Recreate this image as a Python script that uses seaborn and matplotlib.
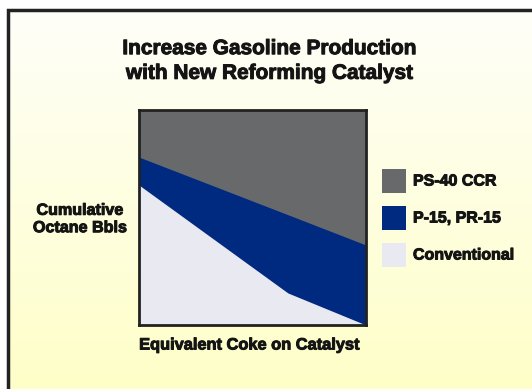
import numpy as np
import pandas as pd
import matplotlib
matplotlib.use("Agg")
import matplotlib.pyplot as plt
import matplotlib.patheffects as pe
import seaborn as sns
from matplotlib.patches import Rectangle

# ---- data (axis 0..100 in both directions) ----
coke = [0, 65.6, 100]
conventional = [65.1, 14.9, 0.0]
p15_pr15 = [78.1, 51.3, 37.2]
ps40_ccr = [100, 100, 100]
series_names = ["PS-40 CCR", "P-15, PR-15", "Conventional"]
series_colors = ["#68696b", "#002a80", "#e9e9f1"]
title_text = "Increase Gasoline Production\nwith New Reforming Catalyst"
xlabel_text = "Equivalent Coke on Catalyst"
ylabel_text = "Cumulative\nOctane Bbls"

df = pd.DataFrame({"coke": coke, "Conventional": conventional,
                   "P-15, PR-15": p15_pr15, "PS-40 CCR": ps40_ccr})

sns.set_style("white")
plt.rcParams["font.family"] = ["Liberation Sans", "DejaVu Sans"]

W, H = 532, 389
fig = plt.figure(figsize=(W / 100, H / 100), dpi=100)
fig.patch.set_facecolor("white")

def fx(px):
    return px / W

def fy(py):
    return 1 - py / H

# background gradient inside frame
bg = fig.add_axes([fx(7), 0, 1 - fx(7), fy(10)])
bg.set_axis_off()
grad = np.linspace(0, 1, 256)[:, None]
top = np.array([0xfe, 0xfe, 0xf9]) / 255
bot = np.array([0xff, 0xff, 0xc8]) / 255
img = top[None, None, :] * (1 - grad[:, :, None]) + bot[None, None, :] * grad[:, :, None]
bg.imshow(img, aspect="auto", extent=[0, 1, 0, 1], origin="upper")
bg.set_xlim(0, 1)
bg.set_ylim(0, 1)
# frame (left and top visible; right/bottom beyond image)
fig.patches.append(Rectangle((fx(7.5), -0.1), 1.2, fy(10.5) + 0.1,
                             transform=fig.transFigure, fill=False,
                             edgecolor="#222222", linewidth=2.5, zorder=5))

# main axes
x0, x1, y0, y1 = 139, 366, 110, 325
ax = fig.add_axes([fx(x0), fy(y1), fx(x1) - fx(x0), fy(y0) - fy(y1)])
sns.lineplot(data=df, x="coke", y="Conventional", ax=ax, color=series_colors[2],
             linewidth=0, legend=False)
ax.fill_between(df["coke"], 0, df["PS-40 CCR"], color=series_colors[0], linewidth=0)
ax.fill_between(df["coke"], 0, df["P-15, PR-15"], color=series_colors[1], linewidth=0)
ax.fill_between(df["coke"], 0, df["Conventional"], color=series_colors[2], linewidth=0)
ax.set_xlim(0, 100)
ax.set_ylim(0, 100)
ax.set_xticks([])
ax.set_yticks([])
ax.set_xlabel("")
ax.set_ylabel("")
for s in ax.spines.values():
    s.set_visible(True)
    s.set_color("#222222")
    s.set_linewidth(2)

txt = "#141414"
bold_fx = [pe.withStroke(linewidth=0.7, foreground=txt)]
# texts
fig.text(fx(270), fy(61), title_text, ha="center", va="center",
         fontsize=15.0, fontweight="bold", color=txt, linespacing=1.38,
         path_effects=bold_fx)
fig.text(fx(249), fy(345), xlabel_text, ha="center", va="center",
         fontsize=11.8, fontweight="bold", color=txt, path_effects=bold_fx)
fig.text(fx(80), fy(219), ylabel_text, ha="center", va="center",
         fontsize=11.6, fontweight="bold", color=txt, linespacing=1.2,
         path_effects=bold_fx)

# legend
ys = [181, 218, 255]
for name, col, yc in zip(series_names, series_colors, ys):
    fig.patches.append(Rectangle((fx(382), fy(yc + 12)), fx(24), fy(0) - fy(24),
                                 transform=fig.transFigure, facecolor=col,
                                 edgecolor="none"))
    fig.text(fx(413), fy(yc), name, ha="left", va="center", fontsize=11.5,
             fontweight="bold", color=txt, path_effects=bold_fx)

fig.savefig("out.png", dpi=100)
